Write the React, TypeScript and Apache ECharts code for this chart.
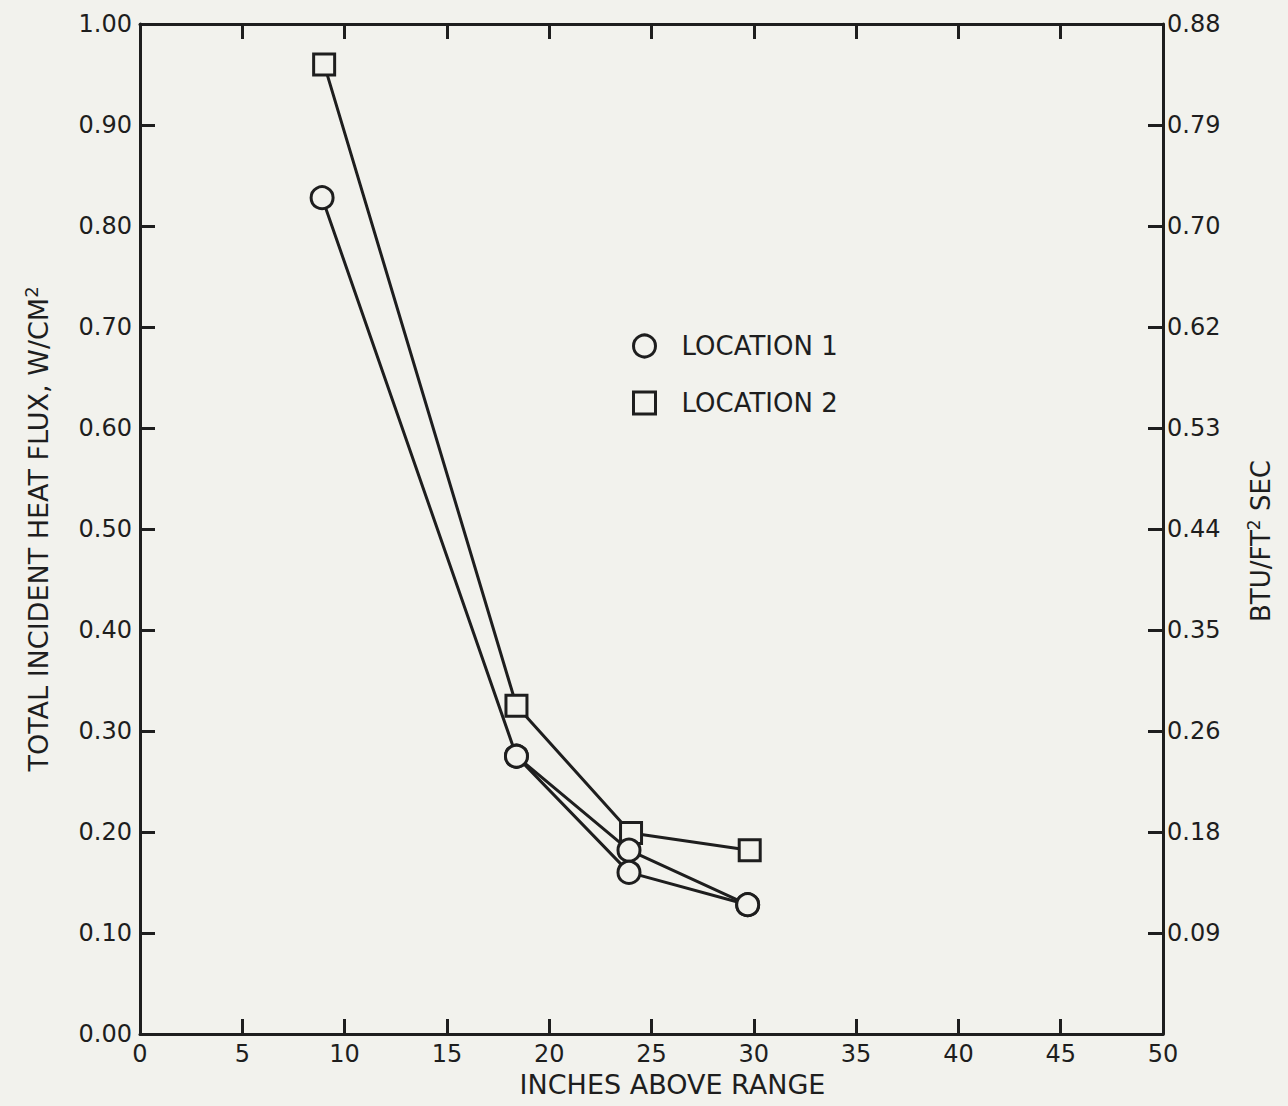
import React, { useEffect, useRef } from "react";
import * as echarts from "echarts";

// Location 1 (circles) – two measurement runs sharing end points
const loc1RunA: [number, number][] = [
  [8.9, 0.828],
  [18.4, 0.275],
  [23.9, 0.182],
  [29.7, 0.128],
];
const loc1RunB: [number, number][] = [
  [18.4, 0.275],
  [23.9, 0.16],
  [29.7, 0.128],
];
// Location 2 (squares)
const loc2: [number, number][] = [
  [9.0, 0.96],
  [18.4, 0.325],
  [24.0, 0.199],
  [29.8, 0.182],
];

const rightLabels = ["", "0.09", "0.18", "0.26", "0.35", "0.44", "0.53", "0.62", "0.70", "0.79", "0.88"];

const BG = "#f2f2ed";
const INK = "#1e1e1e";
const FONT = "DejaVu Sans";

export default function App() {
  const ref = useRef<HTMLDivElement>(null);
  useEffect(() => {
    document.body.style.margin = "0";
    document.body.style.overflow = "hidden";
    const chart = echarts.init(ref.current!, null, { renderer: "svg" });
    const axisLine = { show: true, onZero: false, lineStyle: { color: INK, width: 3 } };
    const tick = { show: true, inside: true, length: 15, lineStyle: { color: INK, width: 3 } };
    const markerStyle = { color: BG, borderColor: INK, borderWidth: 3 };
    chart.setOption({
      animation: false,
      backgroundColor: BG,
      textStyle: { fontFamily: FONT, color: INK },
      grid: { left: 140, right: 125, top: 24, bottom: 72, containLabel: false },
      legend: {
        orient: "vertical",
        left: 632,
        top: 333,
        padding: 0,
        itemWidth: 22,
        itemHeight: 22,
        itemGap: 31,
        selectedMode: false,
        data: [
          { name: "LOCATION 1", icon: "circle" },
          { name: "LOCATION 2", icon: "rect" },
        ],
        itemStyle: { color: BG, borderColor: INK, borderWidth: 3 },
        textStyle: { fontFamily: FONT, fontSize: 26, color: INK, padding: [0, 0, 0, 21] },
      },
      xAxis: [
        {
          type: "value",
          min: 0,
          max: 50,
          interval: 5,
          position: "bottom",
          axisLine,
          axisTick: tick,
          splitLine: { show: false },
          axisLabel: { fontSize: 24, color: INK, fontFamily: FONT, margin: 8 },
          name: "INCHES ABOVE RANGE",
          nameLocation: "middle",
          nameGap: 37,
          nameTextStyle: { fontSize: 27, color: INK, fontFamily: FONT, padding: [0, 0, 0, 42] },
        },
        {
          type: "value",
          min: 0,
          max: 50,
          interval: 5,
          position: "top",
          axisLine,
          axisTick: tick,
          splitLine: { show: false },
          axisLabel: { show: false },
        },
      ],
      yAxis: [
        {
          type: "value",
          min: 0,
          max: 1,
          interval: 0.1,
          position: "left",
          axisLine,
          axisTick: tick,
          splitLine: { show: false },
          axisLabel: {
            fontSize: 24,
            color: INK,
            fontFamily: FONT,
            margin: 8,
            formatter: (v: number) => v.toFixed(2),
          },
          name: "TOTAL INCIDENT HEAT FLUX, W/CM{sup|2}",
          nameLocation: "middle",
          nameGap: 86,
          nameTextStyle: {
            fontSize: 27,
            color: INK,
            fontFamily: FONT,
            lineHeight: 32,
            rich: { sup: { fontSize: 18, verticalAlign: "top", lineHeight: 32, fontFamily: FONT, color: INK } },
          },
        },
        {
          type: "value",
          min: 0,
          max: 1,
          interval: 0.1,
          position: "right",
          axisLine,
          axisTick: tick,
          splitLine: { show: false },
          axisLabel: {
            fontSize: 24,
            color: INK,
            fontFamily: FONT,
            margin: 4,
            formatter: (v: number) => rightLabels[Math.round(v * 10)] ?? "",
          },
          name: "BTU/FT{sup|2} SEC",
          nameLocation: "middle",
          nameGap: 82,
          nameTextStyle: {
            fontSize: 26,
            color: INK,
            fontFamily: FONT,
            lineHeight: 32,
            padding: [0, 24, 0, 0],
            rich: { sup: { fontSize: 17, verticalAlign: "top", lineHeight: 32, fontFamily: FONT, color: INK } },
          },
        },
      ],
      series: [
        {
          name: "LOCATION 1",
          type: "line",
          data: loc1RunA,
          symbol: "circle",
          symbolSize: 22,
          itemStyle: markerStyle,
          lineStyle: { color: INK, width: 3 },
          z: 3,
        },
        {
          name: "LOCATION 1",
          type: "line",
          data: loc1RunB,
          symbol: "circle",
          symbolSize: 22,
          itemStyle: markerStyle,
          lineStyle: { color: INK, width: 3 },
          z: 3,
        },
        {
          name: "LOCATION 2",
          type: "line",
          data: loc2,
          symbol: "rect",
          symbolSize: 21,
          itemStyle: markerStyle,
          lineStyle: { color: INK, width: 3 },
          z: 2,
        },
      ],
    });
    return () => chart.dispose();
  }, []);
  return <div ref={ref} style={{ width: 1288, height: 1106 }} />;
}
